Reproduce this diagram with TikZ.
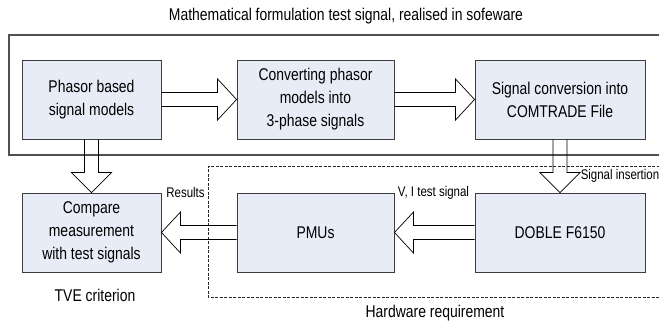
\documentclass[tikz,border=0pt]{standalone}
\usepackage{fontspec}
\setmainfont[FakeStretch=0.82]{Liberation Sans}
\usepackage{tikz}
\usetikzlibrary{positioning}
\usetikzlibrary{calc}
\definecolor{boxfill}{RGB}{231,236,246}
\definecolor{boxline}{RGB}{60,60,60}
\definecolor{frameline}{RGB}{80,80,80}
\newcommand{\boxfont}{\fontsize{17}{23}\selectfont}
\newcommand{\lblfont}{\fontsize{14}{16}\selectfont}
% hollow block arrows between two boxes
\newcommand{\fatright}[2]{%
  \draw[fatarrow] let \p1=(#1.east), \p2=(#2.west) in
    (\x1,\y1+7pt) -- (\x2-19pt,\y1+7pt) -- (\x2-19pt,\y1+20.5pt) -- (\x2,\y1)
    -- (\x2-19pt,\y1-20.5pt) -- (\x2-19pt,\y1-7pt) -- (\x1,\y1-7pt);}
\newcommand{\fatleft}[2]{%
  \draw[fatarrow] let \p1=(#1.west), \p2=(#2.east) in
    (\x1,\y1+7pt) -- (\x2+19pt,\y1+7pt) -- (\x2+19pt,\y1+20.5pt) -- (\x2,\y1)
    -- (\x2+19pt,\y1-20.5pt) -- (\x2+19pt,\y1-7pt) -- (\x1,\y1-7pt);}
\newcommand{\fatdown}[2]{%
  \draw[fatarrow] let \p1=(#1.south), \p2=(#2.north) in
    (\x1-7pt,\y1) -- (\x1-7pt,\y2+20pt) -- (\x1-20pt,\y2+20pt) -- (\x1,\y2)
    -- (\x1+20pt,\y2+20pt) -- (\x1+7pt,\y2+20pt) -- (\x1+7pt,\y1);}
\tikzset{
    block/.style = {draw=boxline, line width=0.9pt, fill=boxfill, inner sep=0pt,
                    minimum width=139pt, minimum height=79pt, align=center, font=\boxfont},
    fatarrow/.style = {draw=black, line width=0.7pt, line join=miter},
    softframe/.style = {draw=frameline, line width=1.1pt},
    hwframe/.style = {draw=black!85, line width=0.6pt, dash pattern=on 3pt off 1.5pt},
    lbl/.style = {inner sep=0pt, font=\lblfont},
    caption/.style = {inner sep=0pt, font=\boxfont}}
\begin{document}
\begin{tikzpicture}[x=1pt,y=1pt]
    \useasboundingbox (0,0) rectangle (659,322);
    % software and hardware frames
    \draw[softframe] (664,287) -- (9,287) -- (9,167) -- (664,167);
    \draw[hwframe] (664,156) -- (208,156) -- (208,25) -- (664,25);
    \path (91.5,222.5) node[block] (phasor) {Phasor based\\signal models}
        ++ (224,0) node[block, minimum width=157pt] (convert) {Converting phasor\\models into\\3-phase signals}
        ++ (244.5,0) node[block, minimum width=170pt] (comtrade) {Signal conversion into\\COMTRADE File};
    \path (91.5,89.5) node[block] (compare) {Compare\\measurement\\with test signals}
        ++ (224,0) node[block, minimum width=157pt] (pmu) {PMUs}
        ++ (244.5,0) node[block, minimum width=170pt] (doble) {DOBLE F6150};
    \fatright{phasor}{convert}
    \fatright{convert}{comtrade}
    \fatdown{phasor}{compare}
    \fatdown{comtrade}{doble}
    \fatleft{doble}{pmu}
    \fatleft{pmu}{compare}
    % texts
    \node[caption] (title) at (346,306) {Mathematical formulation test signal, realised in sofeware};
    \node[lbl] (results) at (185.5,130) {Results};
    \node[lbl] (vitest) at (433.5,129) {V, I test signal};
    \node[lbl] (insert) at (620,146) {Signal insertion};
    \node[caption] (tve) at (95,27) {TVE criterion};
    \node[caption] (hw) at (435,9) {Hardware requirement};
\end{tikzpicture}
\end{document}
